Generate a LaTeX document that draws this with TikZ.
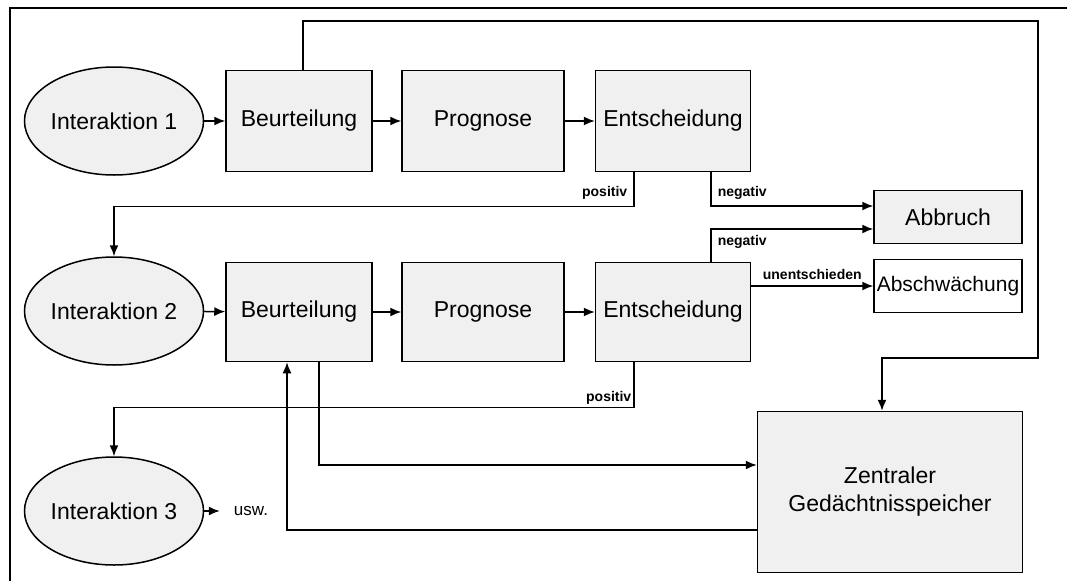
\documentclass[tikz,border=0pt]{standalone}
\usepackage{fontspec}
\setmainfont{Liberation Sans}
\usetikzlibrary{arrows.meta,shapes.geometric}

\tikzset{
  box/.style={draw, line width=1.5pt, fill=black!6, inner sep=0pt, align=center},
  oval/.style={ellipse, draw, line width=1.5pt, fill=black!6, inner sep=0pt,
    minimum width=162pt, minimum height=108pt},
  arr/.style={line width=1.5pt, -{Latex[length=11pt,width=9pt]}},
  lbl/.style={font=\fontsize{14}{16}\selectfont\bfseries, inner sep=6pt},
}

\begin{document}
\begin{tikzpicture}[x=1pt, y=-1pt, font=\fontsize{23}{28}\selectfont]
    % page size
    \useasboundingbox (0,0) rectangle (1067,581);
    % frame
    \draw [line width=1.8pt] (10,581) -- (10,8) -- (1067,8);
    % interactions
    \node [oval] (i1) at (114,121) {Interaktion 1};
    \node [oval] (i2) at (114,311) {Interaktion 2};
    \node [oval] (i3) at (114,511) {Interaktion 3};
    % first row
    \node [box, minimum width=146pt, minimum height=101pt] (b1) at (299,121) {Beurteilung};
    \node [box, minimum width=162pt, minimum height=101pt] (p1) at (483,121) {Prognose};
    \node [box, minimum width=155pt, minimum height=101pt] (e1) at (673,121) {Entscheidung};
    % second row
    \node [box, minimum width=146pt, minimum height=99pt] (b2) at (299,312) {Beurteilung};
    \node [box, minimum width=162pt, minimum height=99pt] (p2) at (483,312) {Prognose};
    \node [box, minimum width=155pt, minimum height=99pt] (e2) at (673,312) {Entscheidung};
    % outcomes
    \node [box, minimum width=148pt, minimum height=53pt] (ab) at (948,217) {Abbruch};
    \node [box, minimum width=148pt, minimum height=53pt, fill=white,
      font=\fontsize{21}{24}\selectfont] (as) at (948,286) {Abschwächung};
    % memory
    \node [box, minimum width=265pt, minimum height=161pt] (z) at (890,492) {Zentraler\\Gedächtnisspeicher};
    % usw.
    \node [font=\fontsize{17}{19}\selectfont, inner xsep=14pt] (usw) at (251,511) {usw.};
    % row arrows
    \draw [arr] (i1) -- (b1);
    \draw [arr] (b1) -- (p1);
    \draw [arr] (p1) -- (e1);
    \draw [arr] (i2) -- (b2);
    \draw [arr] (b2) -- (p2);
    \draw [arr] (p2) -- (e2);
    \draw [arr] (i3) -- (usw);
    % decisions of row one
    \draw [arr] ([xshift=-39pt]e1.south) -- ++(0,34) node [lbl, above left] {positiv} -| (i2.north);
    \draw [arr] ([xshift=38pt]e1.south) |- ([yshift=11pt]ab.west) node [lbl, pos=0.5, above right] {negativ};
    % decisions of row two
    \draw [arr] ([xshift=38pt]e2.north) |- ([yshift=-12pt]ab.west) node [lbl, pos=0.5, below right] {negativ};
    \draw [arr] (e2.east |- as.west) -- (as.west) node [lbl, midway, above] {unentschieden};
    \draw [arr] ([xshift=-39pt]e2.south) -- ++(0,45) node [lbl, above left, inner sep=2pt] {positiv} -| (i3.north);
    % memory links
    \coordinate (ne) at (1038,21);
    \coordinate (se) at (1038,358);
    \draw [arr] ([xshift=4pt]b1.north) |- (ne) -- (se) -| ([xshift=-8pt]z.north);
    \draw [arr] ([xshift=20pt]b2.south) |- ([yshift=27pt]z.west);
    \draw [arr] ([yshift=-38pt]z.west) -| ([xshift=-12pt]b2.south);
\end{tikzpicture}
\end{document}
